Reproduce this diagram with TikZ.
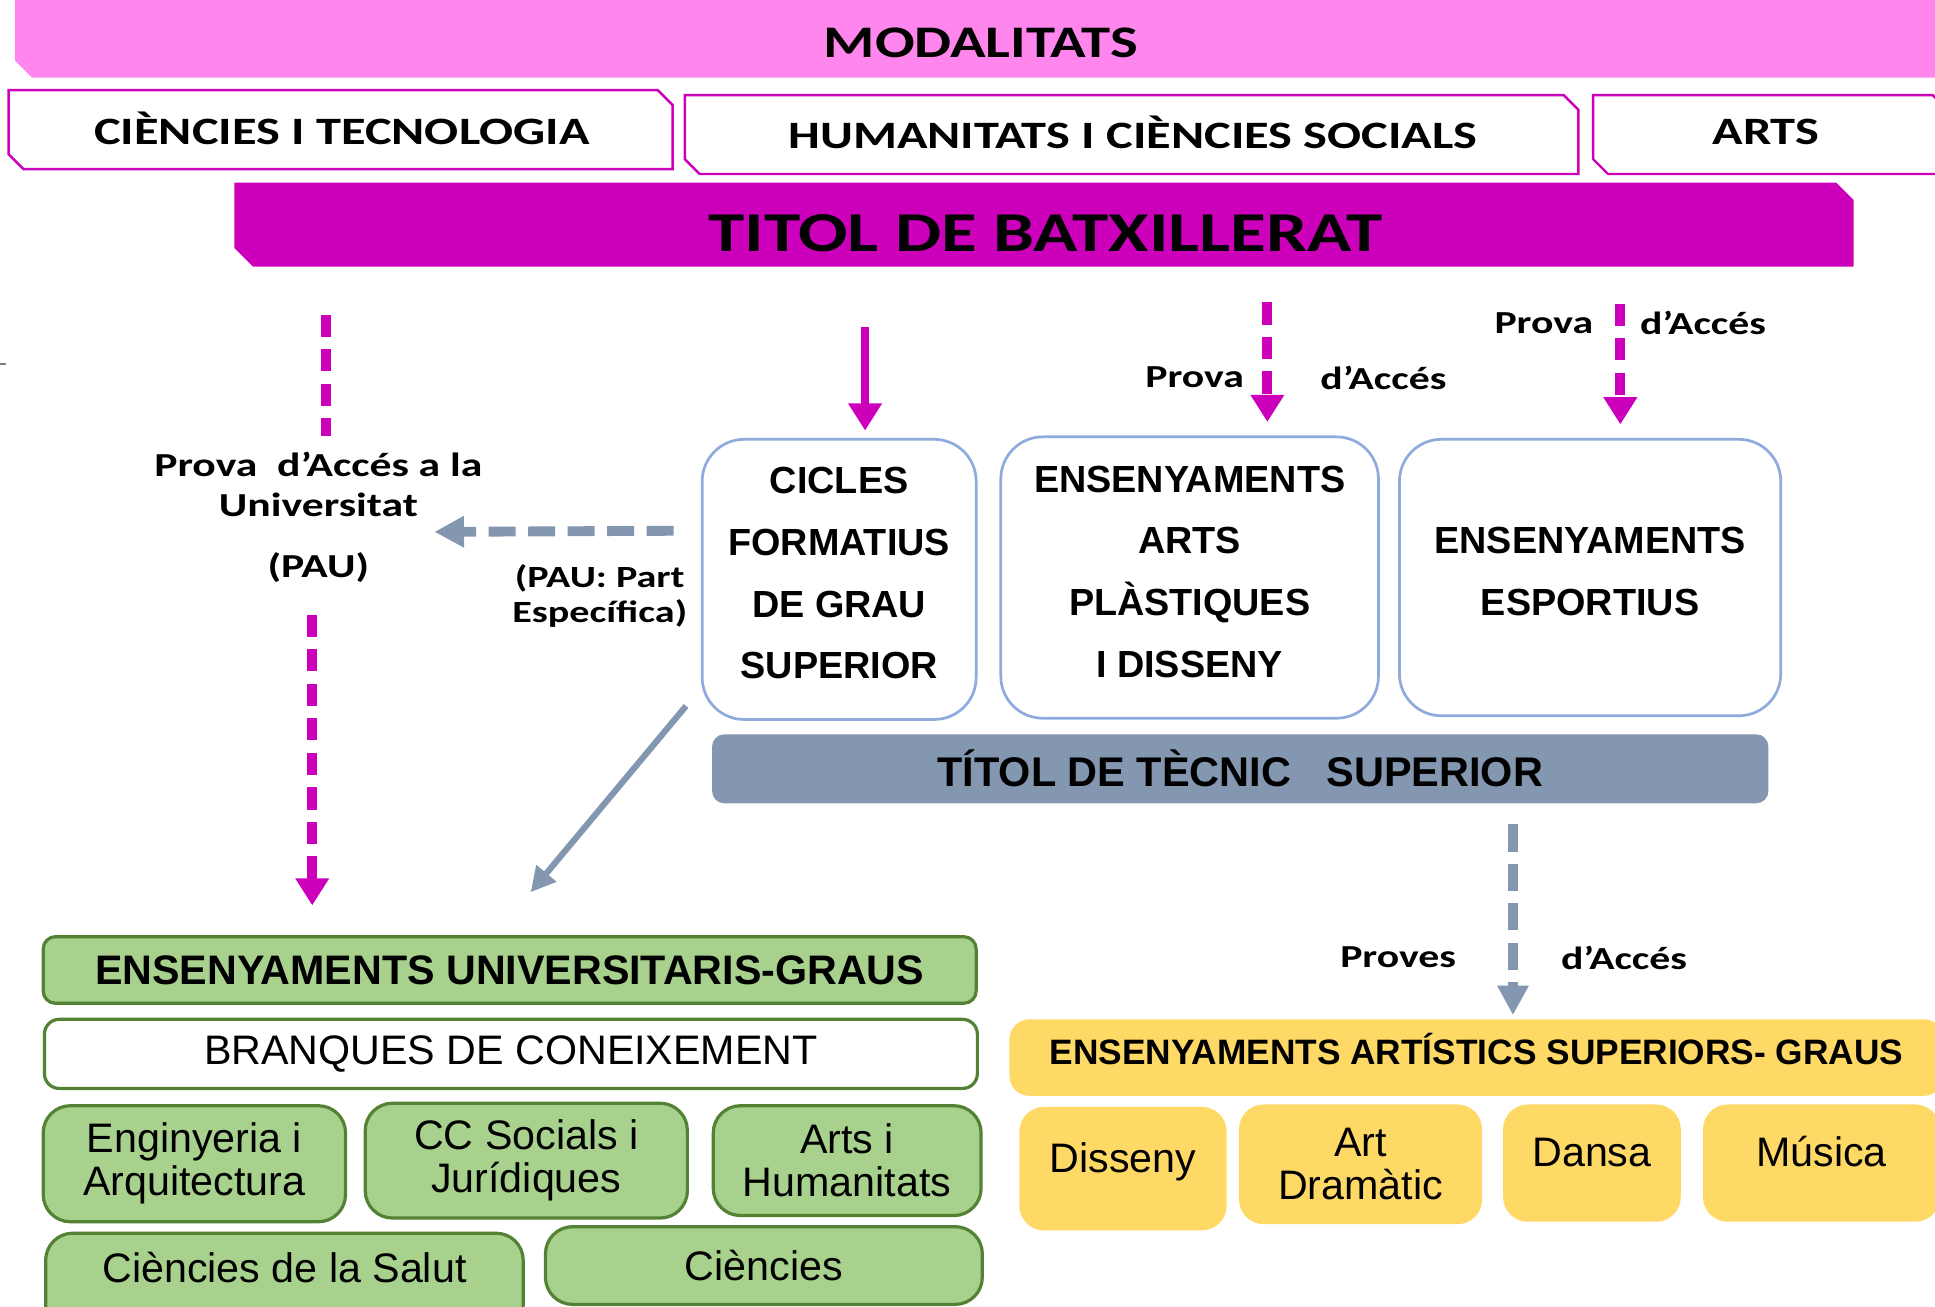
\documentclass[tikz,border=0pt]{standalone}
\usepackage{fontspec}
\usetikzlibrary{arrows.meta}
\newfontfamily\calfont[FakeStretch=1.3]{Carlito}
\newfontfamily\arfont{Liberation Sans}
\definecolor{lightmag}{RGB}{255,134,236}
\definecolor{mag}{RGB}{204,0,187}
\definecolor{slate}{RGB}{132,151,176}
\definecolor{boxblue}{RGB}{143,170,220}
\definecolor{leaf}{RGB}{169,209,142}
\definecolor{leafline}{RGB}{84,130,53}
\definecolor{sand}{RGB}{255,217,102}

\begin{document}
\begin{tikzpicture}[x=0.5pt, y=-0.5pt,
	band/.style={font=\calfont\bfseries\fontsize{15.7}{18}\selectfont},
	lbl/.style={inner sep=0pt, font=\calfont\bfseries\fontsize{13}{16.5}\selectfont},
	bluebox/.style={draw=boxblue, line width=1.1pt, fill=white, rounded corners=17pt, align=center,
		text depth=5pt, font=\arfont\bfseries\fontsize{15.3}{25}\selectfont},
	greenbox/.style={draw=leafline, line width=1.3pt, fill=leaf, rounded corners=11pt, align=center,
		font=\arfont\fontsize{16.7}{17.5}\selectfont},
	sandbox/.style={fill=sand, rounded corners=10pt, align=center,
		font=\arfont\fontsize{16.7}{17.5}\selectfont},
	sandone/.style={sandbox, text height=12pt, text depth=9pt},
	magdash/.style={mag, line width=4pt, dash pattern=on 9pt off 5pt},
	magtip/.style={-{Triangle[length=11pt,width=13pt]}},
	slatedash/.style={slate, line width=4pt, dash pattern=on 11pt off 5pt, -{Triangle[length=12pt,width=12pt]}}
]
	\useasboundingbox (0,0) rectangle (1568,1059);
	\draw[gray, line width=1pt] (0,295) -- (5,295);

	% bandes de dalt
	\fill[lightmag] (12,0) -- (1568,0) -- (1568,63) -- (26,63) -- (12,49) -- cycle;
	\node[font=\calfont\bfseries\fontsize{18.3}{20}\selectfont] (modal) at (795,35) {MODALITATS};

	\draw[mag, line width=1pt, fill=white] (7,73) -- (533,73) -- (545,85) -- (545,137) -- (19,137) -- (7,125) -- cycle;
	\draw[mag, line width=1pt, fill=white] (555,77) -- (1267,77) -- (1279,89) -- (1279,141) -- (567,141) -- (555,129) -- cycle;
	\draw[mag, line width=1pt, fill=white] (1291,77) -- (1566,77) -- (1578,89) -- (1578,141) -- (1303,141) -- (1291,129) -- cycle;
	\node[band] (cienc) at (277,104) {CIÈNCIES I TECNOLOGIA};
	\node[band] (human) at (918,107) {HUMANITATS I CIÈNCIES SOCIALS};
	\node[band] (arts) at (1431,107) {ARTS};

	\fill[mag] (190,148) -- (1488,148) -- (1502,162) -- (1502,216) -- (205,216) -- (190,201) -- cycle;
	\node[font=\calfont\bfseries\fontsize{22.8}{25}\selectfont] (titol) at (847,189) {TITOL DE BATXILLERAT};

	% caixes del mig
	\node[bluebox, minimum width=111pt, minimum height=113.5pt] (cicles) at (680,469.5) {CICLES\\FORMATIUS\\DE GRAU\\SUPERIOR};
	\node[bluebox, minimum width=153pt, minimum height=114pt] (ensart) at (964,468) {ENSENYAMENTS\\ARTS\\PLÀSTIQUES\\I DISSENY};
	\node[bluebox, minimum width=154.5pt, minimum height=112pt] (ensesp) at (1288.5,468) {ENSENYAMENTS\\ESPORTIUS};
	\node[fill=slate, rounded corners=5pt, minimum width=428pt, minimum height=28pt,
		font=\arfont\bfseries\fontsize{16.8}{20}\selectfont] (tecnic) at (1005,623) {TÍTOL DE TÈCNIC\hspace{0.85em}SUPERIOR};

	% etiquetes
	\node[lbl, align=center, font=\calfont\bfseries\fontsize{13.6}{16.5}\selectfont] (pau) at (258,419) {Prova\ \ d’Accés a la\\Universitat\\[8pt](PAU)};
	\node[lbl, align=center, font=\calfont\bfseries\fontsize{12.5}{14}\selectfont] (pauPart) at (486,483) {(PAU: Part\\Específica)};
	\node[lbl] (prova1) at (968,306) {Prova};
	\node[lbl] (acces1) at (1121,306) {d’Accés};
	\node[lbl] (prova2) at (1251,262) {Prova};
	\node[lbl] (acces2) at (1380,262) {d’Accés};
	\node[lbl] (proves) at (1133,776) {Proves};
	\node[lbl] (acces3) at (1316,776) {d’Accés};

	% universitat
	\node[greenbox, rounded corners=5pt, minimum width=378pt, minimum height=27pt,
		font=\arfont\bfseries\fontsize{16.7}{20}\selectfont] (univ) at (413,786) {ENSENYAMENTS UNIVERSITARIS-GRAUS};
	\node[greenbox, fill=white, rounded corners=6pt, minimum width=378pt, minimum height=28pt] (branq) at (414,854) {BRANQUES DE CONEIXEMENT};
	\node[greenbox, minimum width=122.5pt, minimum height=47pt] (engi) at (157.5,943) {Enginyeria i\\Arquitectura};
	\node[greenbox, minimum width=130.5pt, minimum height=46.5pt] (socials) at (426.5,940.5) {CC Socials i\\Jurídiques};
	\node[greenbox, minimum width=108.5pt, minimum height=44.5pt] (humnts) at (686.5,940.5) {Arts i\\Humanitats};
	\node[greenbox, anchor=north, minimum width=193.5pt, minimum height=40pt] (salut) at (230.5,998) {};
	\node[font=\arfont\fontsize{16.7}{17.5}\selectfont] (salutTxt) at (230.5,1027) {Ciències de la Salut};
	\node[greenbox, minimum width=177pt, minimum height=31.5pt] (ciencies) at (619,1025.5) {Ciències};

	% ensenyaments artistics
	\node[sandbox, rounded corners=8pt, minimum width=378.5pt, minimum height=31pt, text height=10.2pt, text depth=5pt,
		font=\arfont\bfseries\fontsize{14.3}{17}\selectfont] (artgrau) at (1196.5,857) {ENSENYAMENTS ARTÍSTICS SUPERIORS- GRAUS};
	\node[sandone, minimum width=84pt, minimum height=50pt] (disseny) at (910,947) {Disseny};
	\node[sandbox, minimum width=98.5pt, minimum height=48.5pt] (dramatic) at (1102.5,943.5) {Art\\Dramàtic};
	\node[sandone, minimum width=72pt, minimum height=47.5pt] (dansa) at (1290,942.5) {Dansa};
	\node[sandone, minimum width=96pt, minimum height=47.5pt] (musica) at (1476,942.5) {Música};

	% fletxes
	\coordinate (pauTop) at (264,255);
	\coordinate (pauBot) at (253,498);
	\coordinate (cicTop) at (701,265);
	\coordinate (artTop) at (1027,245);
	\coordinate (espTop) at (1313,246);
	\coordinate (provTop) at (1226,668);
	\coordinate (pauTip) at (352,431);
	\coordinate (univTip) at (430,723);

	\draw[magdash, shorten >=6pt] (pauTop) -- (pauTop |- pau.north);
	\draw[magdash, magtip, shorten >=12pt] (pauBot) -- (pauBot |- univ.north);
	\draw[mag, line width=3pt, magtip, shorten >=3pt] (cicTop) -- (cicTop |- cicles.north);
	\draw[magdash, magtip, shorten >=5.5pt] (artTop) -- (artTop |- ensart.north);
	\draw[magdash, magtip, shorten >=5.5pt] (espTop) -- (espTop |- ensesp.north);
	\draw[slatedash, shorten <=11pt] ([yshift=19.75pt]cicles.west) -- (pauTip);
	\draw[slate, line width=2.5pt, -{Triangle[length=10pt,width=10pt]}] ([xshift=-6pt,yshift=6pt]cicles.south west) -- (univTip);
	\draw[slatedash, shorten >=1.5pt] (provTop) -- (provTop |- artgrau.north);
\end{tikzpicture}
\end{document}
